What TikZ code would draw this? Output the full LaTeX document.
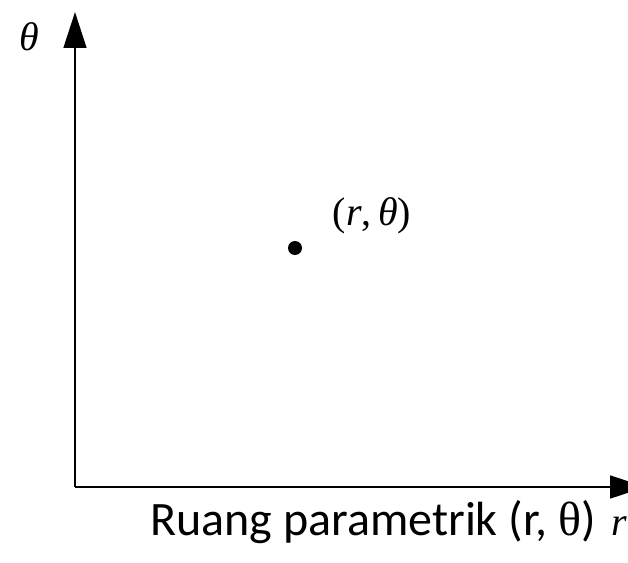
\documentclass[tikz,border=0pt]{standalone}
\usepackage{fontspec}
\setmainfont{Carlito}
\newfontfamily\timesfont{Liberation Serif}
\usetikzlibrary{arrows.meta, positioning}

\begin{document}
\begin{tikzpicture}[
  x=0.75pt, y=-0.75pt,
  axis/.style={line width=2pt, -{Triangle[length=27pt, width=17pt]}},
  symlabel/.style={font=\timesfont\fontsize{30}{34}\selectfont, inner sep=0pt},
  caption/.style={font=\fontsize{36}{40}\selectfont, inner sep=0pt},
]
\clip (0,0) rectangle (628,563);
\coordinate (origin) at (75,487);
\coordinate (ytip) at (75,12);
\coordinate (xtip) at (646,487);

\draw[axis] (origin) -- (ytip);
\draw[axis] (origin) -- (xtip);

\node[symlabel] (thetalabel) at (29,37) {\itshape θ};
\node[symlabel, anchor=base west] (rlabel) at (611,535) {\itshape r};

\fill (295,248) circle (7) node (pt) {};
\node[symlabel] (ptlabel) at (372,216) {(\textit{r},\,\textit{θ})};

\node[caption, anchor=base west] (cap) at (150,535)
  {Ruang parametrik (r, {\timesfont θ})};
\end{tikzpicture}
\end{document}
